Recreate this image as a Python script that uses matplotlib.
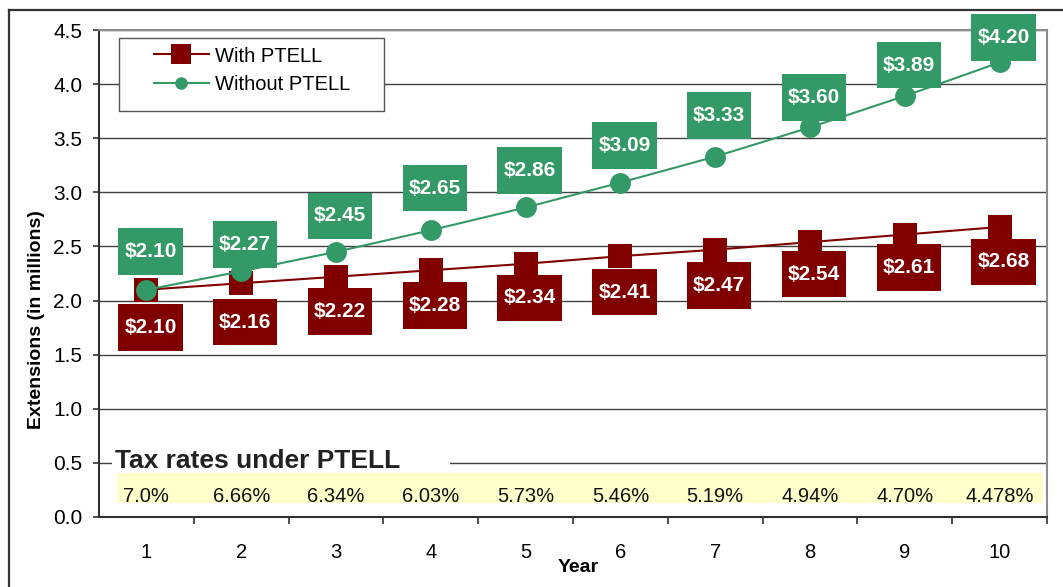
import matplotlib.pyplot as plt
from matplotlib.lines import Line2D
from matplotlib.patches import Rectangle
from matplotlib.path import Path

# =========================
# 0) data
# =========================
YEARS = [1, 2, 3, 4, 5, 6, 7, 8, 9, 10]
WITH_PTELL = [2.10, 2.16, 2.22, 2.28, 2.34, 2.41, 2.47, 2.54, 2.61, 2.68]
WITHOUT_PTELL = [2.10, 2.27, 2.45, 2.65, 2.86, 3.09, 3.33, 3.60, 3.89, 4.20]
TAX_RATES = ["7.0%", "6.66%", "6.34%", "6.03%", "5.73%",
             "5.46%", "5.19%", "4.94%", "4.70%", "4.478%"]

# label placement (pixels from the point, + is down), hand placed like the original
RED_LABEL_DY = [38, 39, 35, 35, 34, 36, 36, 32, 33, 35]
GREEN_LABEL_DY = [-38, -27, -36, -42, -37, -37, -41, -30, -31, -25]

RED = "#800000"
GREEN = "#339966"
GRID = "#404040"

plt.rcParams["font.family"] = ["Liberation Sans", "DejaVu Sans"]

# =========================
# 1) helpers
# =========================
def label_box(x0, y0, width, height, mutation_size):
    # box taller than the text needs, like the excel data labels
    px = 0.29 * mutation_size
    py = 0.66 * mutation_size
    x0, y0 = x0 - px, y0 - py
    x1, y1 = x0 + width + 2 * px, y0 + height + 2 * py
    return Path([(x0, y0), (x1, y0), (x1, y1), (x0, y1), (x0, y0)], closed=True)

def value_labels(ax, xs, ys, offsets, color):
    for x, y, dy in zip(xs, ys, offsets):
        ax.annotate(f"${y:.2f}", (x, y), xytext=(4, -dy), textcoords="offset pixels",
                    ha="center", va="center", fontsize=15, fontweight="bold",
                    color="white", zorder=5, annotation_clip=False,
                    bbox=dict(boxstyle=label_box, fc=color, ec="none"))

# =========================
# 2) figure
# =========================
fig = plt.figure(figsize=(10.63, 5.87), dpi=100)
ax = fig.add_axes([99 / 1063, 70 / 587, 948 / 1063, 487 / 587])

# outer chart border (left + top only visible)
fig.add_artist(Line2D([9 / 1063, 9 / 1063], [0, 1 - 10 / 587], color="#333333", lw=1.6))
fig.add_artist(Line2D([9 / 1063, 1], [1 - 10 / 587, 1 - 10 / 587], color="#333333", lw=1.6))

ax.plot(YEARS, WITH_PTELL, color=RED, lw=1.5, marker="s", ms=17.3, mew=0,
        label="With PTELL", zorder=3)
ax.plot(YEARS, WITHOUT_PTELL, color=GREEN, lw=1.5, marker="o", ms=15, mew=0,
        label="Without PTELL", zorder=4)

value_labels(ax, YEARS, WITH_PTELL, RED_LABEL_DY, RED)
value_labels(ax, YEARS, WITHOUT_PTELL, GREEN_LABEL_DY, GREEN)

ax.set_xlim(0.5, 10.5)
ax.set_ylim(0, 4.5)
ax.set_yticks([i * 0.5 for i in range(10)])
ax.set_yticklabels([f"{i * 0.5:.1f}" for i in range(10)])
ax.set_xticks(YEARS)
ax.set_xticks([y + 0.5 for y in YEARS[:-1]] + [10.5], minor=True)
ax.tick_params(axis="x", which="major", length=0, pad=19, labelsize=14.5)
ax.tick_params(axis="x", which="minor", length=5, width=1.2, color="#303030")
ax.tick_params(axis="y", length=4, width=1.2, pad=8, labelsize=15, color="#303030")

ax.grid(axis="y", color=GRID, lw=1.0, zorder=0)
ax.set_axisbelow(True)
for side in ["left", "bottom"]:
    ax.spines[side].set_color("#303030")
    ax.spines[side].set_linewidth(1.5)
for side in ["top", "right"]:
    ax.spines[side].set_color("#8c8c8c")
    ax.spines[side].set_linewidth(1.5)

ax.set_xlabel("Year", fontsize=14, fontweight="bold")
ax.xaxis.set_label_coords(0.505, -0.086)
ax.set_ylabel("Extensions (in millions)", fontsize=14, fontweight="bold")
ax.yaxis.set_label_coords(-0.057, 0.405)

# legend with its own square frame
ax.add_patch(Rectangle((20 / 948, 1 - 73 / 487 - 8 / 487), 265 / 948, 73 / 487,
                       transform=ax.transAxes, fc="white", ec="#555555", lw=1.0, zorder=6))
leg = ax.legend(loc="upper left", bbox_to_anchor=(55 / 948, 1 - 16.5 / 487),
                frameon=False, fontsize=14.5, borderpad=0, borderaxespad=0,
                handlelength=2.73, handletextpad=0.3, labelspacing=0.45)
leg.set_zorder(7)
leg.legend_handles[0].set_markersize(14)
leg.legend_handles[1].set_markersize(9)

# tax rate strip
ax.add_patch(Rectangle((0.64, 0.45), 3.56, 0.08, fc="white", ec="none", zorder=1))
ax.text(0.669, 0.453, "Tax rates under PTELL", fontsize=19, fontweight="bold",
        color="#222222", zorder=2)
ax.add_patch(Rectangle((0.69, 0.13), 9.77, 0.277, fc="#FFFFCC", ec="none", zorder=1))
for x, rate in zip(YEARS, TAX_RATES):
    ax.text(x, 0.14, rate, ha="center", va="baseline", fontsize=14.5, color="#111111", zorder=2)

fig.savefig("out.png", dpi=100)
